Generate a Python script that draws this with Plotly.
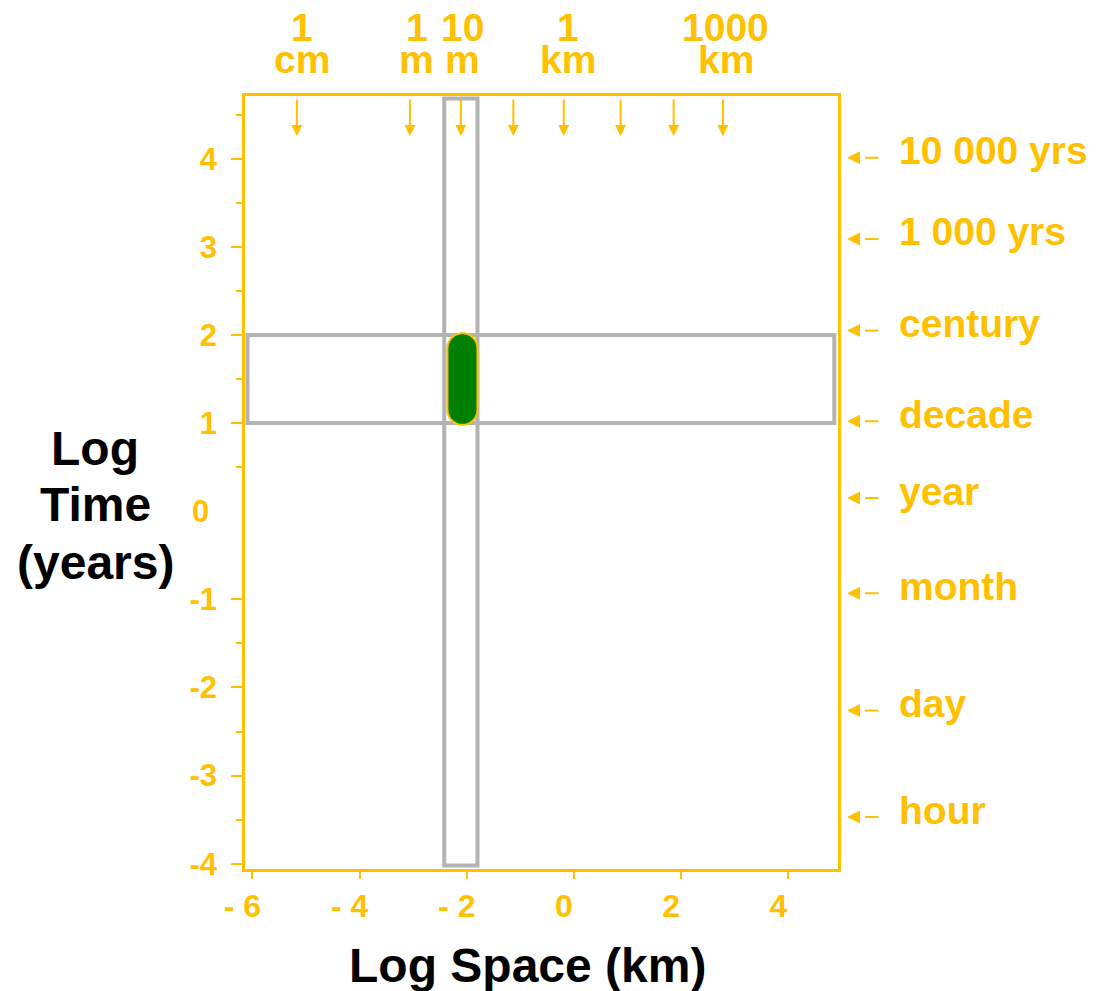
import numpy as np
import plotly.graph_objects as go

# colours
GOLD = "#FFC000"
GREY = "#B3B3B3"
GREEN = "#008000"
FONT = "Liberation Sans, Arial, sans-serif"

# axes
x_range = [-6.137, 4.926]
y_range = [-4.06, 4.712]
x_tickvals = [-6, -4, -2, 0, 2, 4]
x_ticktext = ["- 6", "- 4", "- 2", "0", "2", "4"]
y_tickvals = [-4, -3, -2, -1, 1, 2, 3, 4]
y_minorvals = [-3.5, -2.5, -1.5, 0.5, 1.5, 2.5, 3.5, 4.5]

# space scale markers along the top (log km)
space_arrows = [-5.17, -3.06, -2.11, -1.13, -0.19, 0.87, 1.86, 2.78]
space_label_x = [-5.08, -2.93, -2.08, -0.11, 2.83]
space_numbers = ["1", "1", "10", "1", "1000"]
space_units = ["cm", "m", "m", "km", "km"]

# time scale markers on the right (log years)
time_labels = ["10 000 yrs", "1 000 yrs", "century", "decade",
               "year", "month", "day", "hour"]
time_label_y = [4.01, 3.09, 2.05, 1.02, 0.15, -0.93, -2.26, -3.47]

# bands and the phenomenon
time_band_x = [-6.09, 4.857]
time_band_y = [1, 2]
space_band_x = [-2.42, -1.80]
space_band_y = [-4.02, 4.683]
pill_x = [-2.36, -1.80]
pill_y = [0.98, 2.02]

# page has an 8px body margin, so the figure is shifted by that much
W, H = 1090, 983
ML, MR, MT, MB = 237, 260, 88, 122

plot_w = W - ML - MR
plot_h = H - MT - MB

fig = go.Figure()

# invisible trace so the axes exist
fig.add_trace(go.Scatter(x=x_range, y=y_range, mode="markers",
                         marker=dict(opacity=0), hoverinfo="skip", showlegend=False))

fig.add_shape(type="rect", x0=time_band_x[0], x1=time_band_x[1],
              y0=time_band_y[0], y1=time_band_y[1],
              line=dict(color=GREY, width=4), fillcolor="rgba(0,0,0,0)")
fig.add_shape(type="rect", x0=space_band_x[0], x1=space_band_x[1],
              y0=space_band_y[0], y1=space_band_y[1],
              line=dict(color=GREY, width=4), fillcolor="rgba(0,0,0,0)")

# pill: rounded ends with radius = half the width in pixels
px_per_x = plot_w / (x_range[1] - x_range[0])
px_per_y = plot_h / (y_range[1] - y_range[0])
r_px = (pill_x[1] - pill_x[0]) * px_per_x / 2
rx = r_px / px_per_x
ry = r_px / px_per_y
cx = (pill_x[0] + pill_x[1]) / 2
t_top = np.linspace(np.pi, 0, 20)
t_bot = np.linspace(0, -np.pi, 20)
top = [(cx + rx * np.cos(t), pill_y[1] - ry + ry * np.sin(t)) for t in t_top]
bot = [(cx + rx * np.cos(t), pill_y[0] + ry + ry * np.sin(t)) for t in t_bot]
pts = top + bot
path = "M " + " L ".join(f"{px:.4f},{py:.4f}" for px, py in pts) + " Z"
fig.add_shape(type="path", path=path, fillcolor=GREEN,
              line=dict(color=GOLD, width=2))

# top arrows
for xv in space_arrows:
    fig.add_annotation(x=xv, xref="x", y=1, yref="paper", yshift=-40,
                       ax=0, ay=-38, text="", showarrow=True,
                       arrowhead=2, arrowsize=1.1, arrowwidth=2, arrowcolor=GOLD)

for xv, num, unit in zip(space_label_x, space_numbers, space_units):
    fig.add_annotation(x=xv, xref="x", y=1, yref="paper", yshift=69,
                       text=f"<b>{num}</b>", showarrow=False,
                       xanchor="center", yanchor="middle",
                       font=dict(size=39, color=GOLD, family=FONT))
    fig.add_annotation(x=xv, xref="x", y=1, yref="paper", yshift=37,
                       text=f"<b>{unit}</b>", showarrow=False,
                       xanchor="center", yanchor="middle",
                       font=dict(size=39, color=GOLD, family=FONT))

# right side arrows and labels
for yv, lab in zip(time_label_y, time_labels):
    fig.add_annotation(x=1, xref="paper", y=yv, yref="y", xshift=9,
                       ax=14, ay=0, text="", showarrow=True,
                       arrowhead=2, arrowsize=1.3, arrowwidth=2, arrowcolor=GOLD)
    fig.add_annotation(x=1, xref="paper", y=yv, yref="y", xshift=27,
                       ax=15, ay=0, text="", showarrow=True,
                       arrowhead=0, arrowwidth=2, arrowcolor=GOLD)
    fig.add_annotation(x=1, xref="paper", y=yv, yref="y", xshift=59, yshift=7,
                       text=f"<b>{lab}</b>", showarrow=False,
                       xanchor="left", yanchor="middle",
                       font=dict(size=39, color=GOLD, family=FONT))

# zero label (no tick drawn at 0 in the original)
fig.add_annotation(x=0, xref="paper", y=0, yref="y", xshift=-34,
                   text="<b>0</b>", showarrow=False,
                   xanchor="right", yanchor="middle",
                   font=dict(size=31, color=GOLD, family=FONT))

# axis titles
for yp, line in zip([0.5446, 0.4709, 0.3959], ["Log", "Time", "(years)"]):
    fig.add_annotation(x=-150 / plot_w, xref="paper", y=yp, yref="paper",
                       text=f"<b>{line}</b>", showarrow=False,
                       xanchor="center", yanchor="middle",
                       font=dict(size=48, color="black", family=FONT))
fig.add_annotation(x=0.477, xref="paper", y=-97 / plot_h, yref="paper",
                   text="<b>Log Space (km)</b>", showarrow=False,
                   xanchor="center", yanchor="middle",
                   font=dict(size=48, color="black", family=FONT))

fig.update_xaxes(range=x_range, showgrid=False, zeroline=False,
                 showline=True, linecolor=GOLD, linewidth=2.5, mirror=True,
                 ticks="outside", ticklen=7, tickwidth=2, tickcolor=GOLD,
                 tickvals=x_tickvals, ticktext=[f"<b>{t}</b>" for t in x_ticktext],
                 ticklabelshift=-10,
                 tickfont=dict(size=32, color=GOLD, family=FONT))
fig.update_yaxes(range=y_range, showgrid=False, zeroline=False,
                 showline=True, linecolor=GOLD, linewidth=2.5, mirror=True,
                 ticks="outside", ticklen=11, tickwidth=2, tickcolor=GOLD,
                 tickvals=y_tickvals, ticktext=[f"<b>{t}</b>" for t in y_tickvals],
                 ticklabelstandoff=8,
                 tickfont=dict(size=31, color=GOLD, family=FONT),
                 minor=dict(tickvals=y_minorvals, ticks="outside", ticklen=6,
                            tickwidth=2, tickcolor=GOLD))

fig.update_layout(width=W, height=H,
                  margin=dict(l=ML, r=MR, t=MT, b=MB),
                  paper_bgcolor="white", plot_bgcolor="white",
                  showlegend=False)

fig.write_html("out.html")
